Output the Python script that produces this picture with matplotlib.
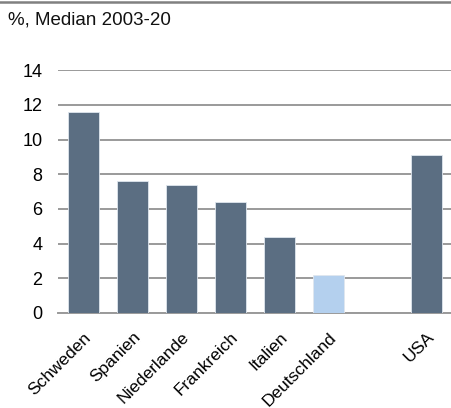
import matplotlib
matplotlib.use("Agg")
import matplotlib.pyplot as plt
from matplotlib.lines import Line2D

plt.rcParams['font.family'] = ['Liberation Sans', 'DejaVu Sans']

countries = ["Schweden", "Spanien", "Niederlande", "Frankreich", "Italien", "Deutschland", "USA"]
values = [11.6, 7.6, 7.4, 6.4, 4.4, 2.2, 9.1]
slots = [0, 1, 2, 3, 4, 5, 7]
highlight = "Deutschland"

dark = "#5b6e82"
light = "#b4d0ee"
colors = [light if c == highlight else dark for c in countries]

fig = plt.figure(figsize=(4.52, 4.08), dpi=100)
ax = fig.add_axes([0.128, 0.233, 0.872, 0.595])

ax.bar(slots, values, width=0.63, color=colors, edgecolor="#dfe6ee", linewidth=0.6, zorder=3)

ax.set_ylim(0, 14)
ax.set_xlim(-0.52, 7.52)
ax.set_yticks(range(0, 15, 2))
ax.yaxis.grid(True, color="#9a9a9a", linewidth=1.4, zorder=0)
ax.set_axisbelow(True)

ax.set_xticks(slots)
ax.set_xticklabels(countries, rotation=45, ha="right", va="top", rotation_mode="anchor", fontsize=12.5)
ax.tick_params(axis="x", length=0, pad=12)
ax.tick_params(axis="y", length=0, pad=11, labelsize=13)

for side in ["top", "right", "left"]:
    ax.spines[side].set_visible(False)
ax.spines["bottom"].set_color("#9a9a9a")
ax.spines["bottom"].set_linewidth(1.4)

# rule along the top and the unit note beneath it
fig.add_artist(Line2D([0, 1], [0.996, 0.996], transform=fig.transFigure, color="#808080", linewidth=1.8))
fig.text(0.018, 0.951, "%, Median 2003-20", fontsize=13.5, va="center", ha="left", color="#111111")

fig.savefig("out.png", dpi=100)
